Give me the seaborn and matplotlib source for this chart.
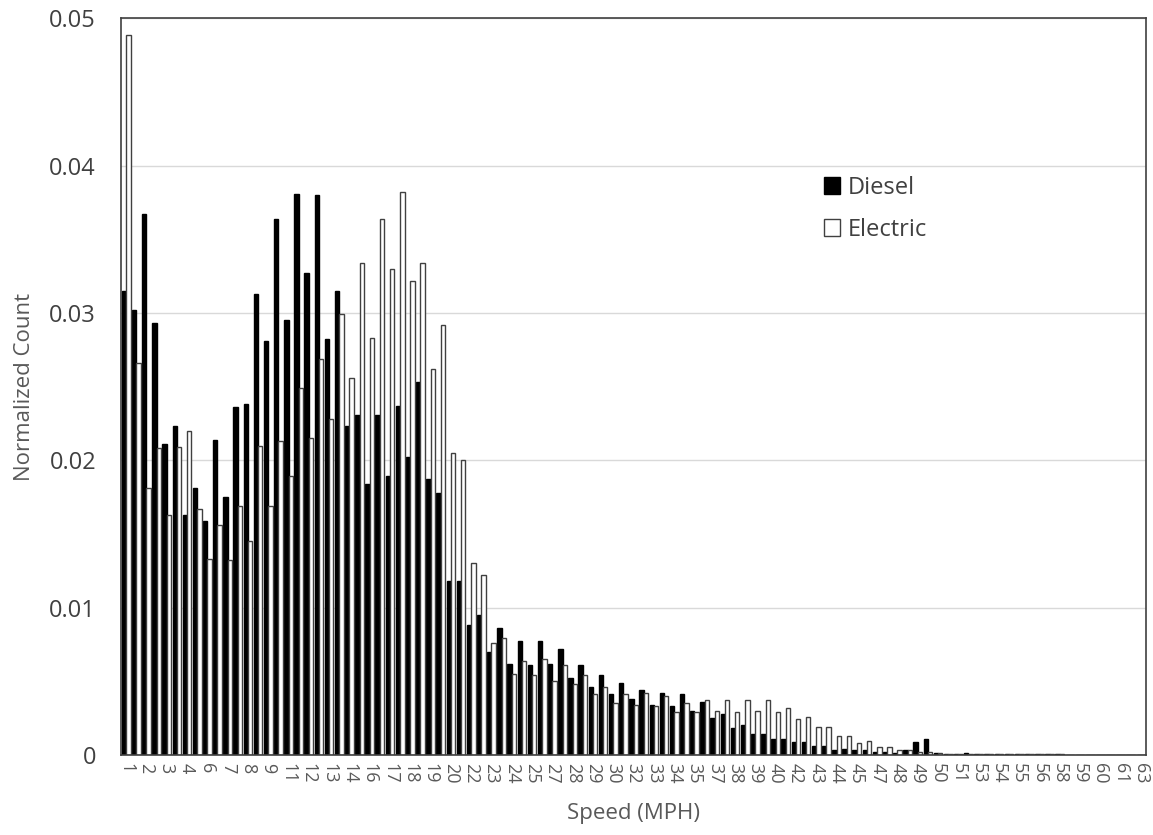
import numpy as np
import pandas as pd
import matplotlib
matplotlib.use('Agg')
import matplotlib.pyplot as plt
import seaborn as sns

# normalized count per speed bin (101 bins, every other bin labelled)
diesel = [
    0.0315, 0.0302, 0.0367, 0.0293, 0.0211, 0.0223, 0.0163, 0.0181, 0.0159, 0.0214,
    0.0175, 0.0236, 0.0238, 0.0313, 0.0281, 0.0364, 0.0295, 0.0381, 0.0327, 0.0380,
    0.0282, 0.0315, 0.0223, 0.0231, 0.0184, 0.0231, 0.0189, 0.0237, 0.0202, 0.0253,
    0.0187, 0.0178, 0.0118, 0.0118, 0.0088, 0.0095, 0.0070, 0.0086, 0.0062, 0.0077,
    0.0061, 0.0077, 0.0062, 0.0072, 0.0052, 0.0061, 0.0046, 0.0054, 0.0041, 0.0049,
    0.0038, 0.0044, 0.0034, 0.0042, 0.0033, 0.0041, 0.0030, 0.0036, 0.0025, 0.0028,
    0.0018, 0.0020, 0.0014, 0.0014, 0.0011, 0.0011, 0.0009, 0.0009, 0.0006, 0.0006,
    0.00035, 0.0004, 0.0003, 0.0003, 0.00016, 0.0002, 0.0001, 0.0003, 0.00085, 0.0011,
    0.00014, 0.00008, 0.00006, 0.0001, 0.00004, 0.00004, 0.00004, 0.00004, 0.00004, 0.00004,
    0.00004, 0.00004, 0.00004, 0, 0, 0, 0, 0, 0, 0, 0,
]
electric = [
    0.0489, 0.0266, 0.0181, 0.0208, 0.0163, 0.0209, 0.0220, 0.0167, 0.0133, 0.0156,
    0.0132, 0.0169, 0.0145, 0.0210, 0.0169, 0.0213, 0.0189, 0.0249, 0.0215, 0.0269,
    0.0228, 0.0299, 0.0256, 0.0334, 0.0283, 0.0364, 0.0330, 0.0382, 0.0322, 0.0334,
    0.0262, 0.0292, 0.0205, 0.0200, 0.0130, 0.0122, 0.0076, 0.0079, 0.0055, 0.0064,
    0.0054, 0.0065, 0.0050, 0.0061, 0.0048, 0.0054, 0.0041, 0.0046, 0.0035, 0.0041,
    0.0034, 0.0042, 0.0033, 0.0040, 0.0029, 0.0035, 0.0029, 0.0037, 0.0030, 0.0037,
    0.0029, 0.0037, 0.0030, 0.0037, 0.0029, 0.0032, 0.0024, 0.0026, 0.0019, 0.0019,
    0.0013, 0.0013, 0.0008, 0.00095, 0.0005, 0.0005, 0.0003, 0.0003, 0.00016, 0.0002,
    0.0001, 0.00007, 0.00005, 0.00005, 0.00003, 0.00003, 0.00003, 0.00003, 0.00003, 0.00003,
    0.00003, 0.00003, 0.00003, 0, 0, 0, 0, 0, 0, 0, 0,
]
tick_labels = ['1', '2', '3', '4', '6', '7', '8', '9', '11', '12', '13', '14', '16', '17',
               '18', '19', '20', '22', '23', '24', '25', '27', '28', '29', '30', '32',
               '33', '34', '35', '37', '38', '39', '40', '42', '43', '44', '45', '47',
               '48', '49', '50', '51', '53', '54', '55', '56', '58', '59', '60', '61', '63']

bins = list(range(len(diesel)))
df = pd.DataFrame({
    'bin': bins * 2,
    'value': diesel + electric,
    'fuel': ['Diesel'] * len(diesel) + ['Electric'] * len(electric),
})

sns.set_style('white')
plt.rcParams['font.family'] = ['Open Sans', 'DejaVu Sans']

fig = plt.figure(figsize=(11.53, 8.35), dpi=100)
ax = fig.add_axes([0.105, 0.096, 0.889, 0.882])

sns.barplot(data=df, x='bin', y='value', hue='fuel', order=bins,
            palette={'Diesel': 'black', 'Electric': 'white'},
            width=0.86, gap=0, linewidth=1.0, ax=ax)

# edge colours: diesel black, electric dark gray
for patch in ax.patches:
    fc = patch.get_facecolor()
    if fc[0] > 0.5:
        patch.set_edgecolor('#404040')
    else:
        patch.set_edgecolor('black')

ax.set_ylim(0, 0.05)
ax.set_xlim(-0.5, len(bins) - 0.5)
ax.set_yticks([0, 0.01, 0.02, 0.03, 0.04, 0.05])
ax.set_yticklabels(['0', '0.01', '0.02', '0.03', '0.04', '0.05'])
ax.set_xticks(range(0, len(bins), 2))
ax.set_xticklabels(tick_labels, rotation=-90)
ax.tick_params(axis='x', labelsize=13, colors='#595959', length=0, pad=6)
ax.tick_params(axis='y', labelsize=17, colors='#404040', length=0, pad=18)

ax.yaxis.grid(True, color='#d9d9d9', linewidth=1)
ax.set_axisbelow(True)
for s in ax.spines.values():
    s.set_visible(True)
    s.set_color('#404040')
    s.set_linewidth(1.2)

ax.set_xlabel('Speed (MPH)', fontsize=16, color='#595959', labelpad=14)
ax.set_ylabel('Normalized Count', fontsize=16, color='#595959', labelpad=10)

handles, labels = ax.get_legend_handles_labels()
ax.legend(handles, labels, loc='upper left', bbox_to_anchor=(0.665, 0.815),
          frameon=False, fontsize=17, handlelength=0.7, handleheight=0.7,
          handletextpad=0.3, labelspacing=0.75, labelcolor='#404040')

fig.savefig('out.png', dpi=100)
